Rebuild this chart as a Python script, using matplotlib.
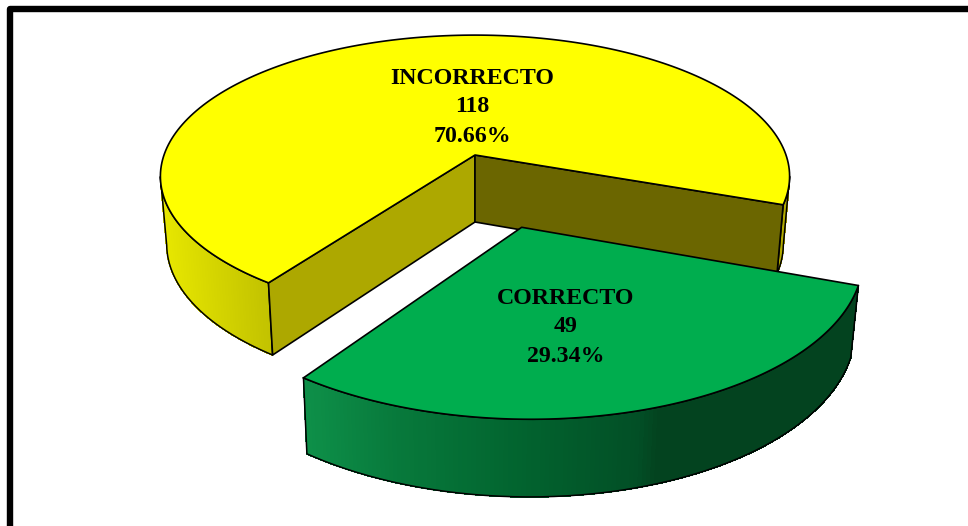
import numpy as np
import matplotlib
matplotlib.use("Agg")
import matplotlib.pyplot as plt
from matplotlib.collections import PolyCollection
from matplotlib.colors import to_rgb

categories = ["INCORRECTO", "CORRECTO"]
counts = [118, 49]

# view of the pie, in pixels
ORIGIN_X, ORIGIN_Y = 475, 155
RADIUS_X, RADIUS_Y = 311, 138
PERSPECTIVE = 0.151
START_ANGLE = -20.0
EXPLODE = 0.505
EXPLODE_TILT = -1.2
DEPTH = 67

percents = [100 * c / sum(counts) for c in counts]
green_span = 360 * counts[1] / sum(counts)
green_start, green_end = START_ANGLE, START_ANGLE - green_span
yellow_start, yellow_end = green_end, START_ANGLE - 360


def project(x, y, bottom=False):
    x = np.asarray(x, dtype=float)
    y = np.asarray(y, dtype=float)
    s = 1 / (1 + PERSPECTIVE * y)
    px = RADIUS_X * x * s
    py = -RADIUS_Y * y * s
    if bottom:
        px = px * 0.98
        py = py + DEPTH * (1 + 0.55 * (s - 1))
    return np.column_stack([ORIGIN_X + px, ORIGIN_Y + py])


def rim(a0, a1, center=(0, 0), bottom=False, n=200):
    t = np.radians(np.linspace(a0, a1, n))
    return project(center[0] + np.cos(t), center[1] + np.sin(t), bottom)


def draw_wall(ax, a0, a1, center, x_stops, colors, z):
    top = rim(a0, a1, center, n=160)
    bot = rim(a0, a1, center, bottom=True, n=160)
    cols = [to_rgb(c) for c in colors]
    polys, faces = [], []
    for i in range(len(top) - 1):
        polys.append([top[i], top[i + 1], bot[i + 1], bot[i]])
        mid = (top[i, 0] + top[i + 1, 0]) / 2
        faces.append([np.interp(mid, x_stops, [c[k] for c in cols]) for k in range(3)])
    # no antialiasing on the strips, it leaves seams between them
    ax.add_collection(PolyCollection(polys, facecolors=faces, edgecolors=faces, linewidths=0.5,
                                     antialiaseds=False, zorder=z))
    outline = np.vstack([top, bot[::-1], top[:1]])
    ax.plot(outline[:, 0], outline[:, 1], color="black", lw=1.1, zorder=z + 0.1, solid_joinstyle="round")


def draw_face(ax, pts, color, z):
    ax.fill(pts[:, 0], pts[:, 1], facecolor=color, edgecolor="black", lw=1.2, zorder=z, joinstyle="round")


fig = plt.figure(figsize=(9.68, 5.26), dpi=100)
ax = fig.add_axes([0, 0, 1, 1])
ax.set_xlim(0, 968)
ax.set_ylim(526, 0)
ax.axis("off")

# frame
ax.plot([10, 10, 968], [526, 9, 9], color="black", lw=4.6, solid_joinstyle="round", zorder=1)

# yellow slice: outer walls (left part and thin sliver on the right)
sweep = rim(yellow_start, yellow_end, n=721)
left_angle = np.linspace(yellow_start, yellow_end, 721)[np.argmin(sweep[:, 0])]
right_angle = np.linspace(yellow_start, yellow_end, 721)[np.argmax(sweep[:, 0])]
draw_wall(ax, yellow_start, left_angle, (0, 0), [163, 267], ["#E6E600", "#C2C200"], 2)
draw_wall(ax, yellow_end, right_angle, (0, 0), [776, 790], ["#9C9600", "#B8B000"], 2)

# yellow slice: inner faces
center_top = project(0, 0)
center_bot = project(0, 0, bottom=True)
left_top = rim(yellow_start, yellow_start, n=1)
left_bot = rim(yellow_start, yellow_start, bottom=True, n=1)
right_top = rim(yellow_end, yellow_end, n=1)
right_bot = rim(yellow_end, yellow_end, bottom=True, n=1)
draw_face(ax, np.vstack([center_top, left_top, left_bot, center_bot]), "#ADA800", 3)
draw_face(ax, np.vstack([center_top, right_top, right_bot, center_bot]), "#6B6600", 3)

# yellow slice: top
draw_face(ax, np.vstack([center_top, rim(yellow_start, yellow_end)]), "#FFFF00", 4)

# green slice, pulled out along its middle angle
mid = np.radians((green_start + green_end) / 2 + EXPLODE_TILT)
green_center = (EXPLODE * np.cos(mid), EXPLODE * np.sin(mid))
draw_wall(ax, green_end, green_start, green_center, [305, 400, 520, 640, 660, 855],
          ["#0E9049", "#07793B", "#02642F", "#024F26", "#03431F", "#03431F"], 5)
green_top = project(*green_center)
draw_face(ax, np.vstack([green_top, rim(green_start, green_end, green_center)]), "#00AD4E", 6)

# labels
label_x = [472.5, 566]
label_y = [[79, 107, 136], [299, 327, 356]]
for i in range(len(categories)):
    lines = [categories[i], str(counts[i]), f"{percents[i]:.2f}%"]
    for line, y in zip(lines, label_y[i]):
        ax.text(label_x[i], y, line, ha="center", va="center", fontsize=17.2,
                fontweight="bold", family="Liberation Serif", color="black", zorder=8)

fig.savefig("out.png", dpi=100)
